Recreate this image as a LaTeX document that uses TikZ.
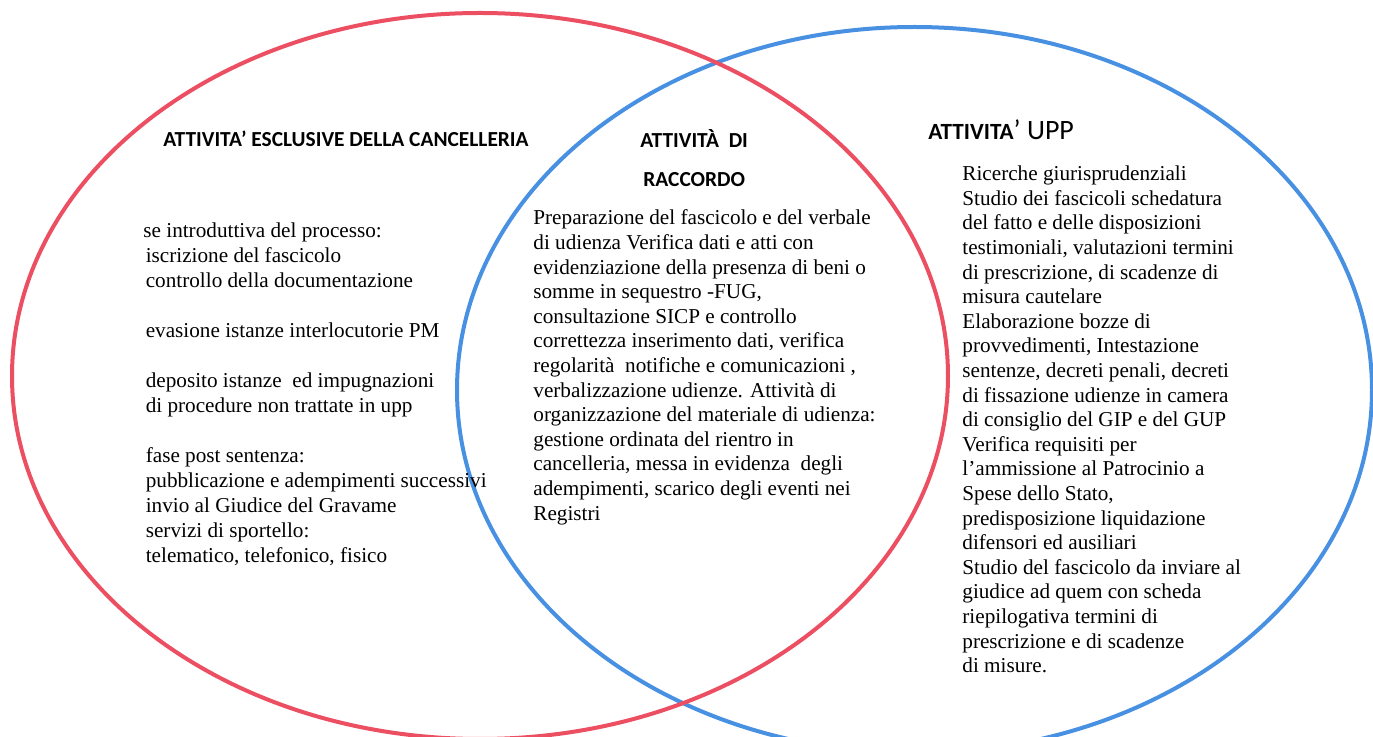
\documentclass[tikz,border=0pt]{standalone}
\usepackage{fontspec}
\setmainfont{Liberation Serif}
\newfontfamily\headfont{Carlito}
\definecolor{vennred}{RGB}{236,78,98}
\definecolor{vennblue}{RGB}{72,144,226}

\begin{document}
\begin{tikzpicture}[x=0.5pt,y=-0.5pt]
\useasboundingbox (0,0) rectangle (1373,737);

\tikzstyle{RingStyle}=[line width=2pt]
\tikzstyle{HeadStyle}=[inner sep=0pt,anchor=base west,font=\headfont\bfseries\fontsize{10.7}{12}\selectfont]
\tikzstyle{BodyStyle}=[inner sep=0pt,anchor=north west,align=left,font=\fontsize{10.6}{12.3}\selectfont]

% the two sets
\draw[RingStyle,vennblue] (914.5,390) ellipse [x radius=228.75pt,y radius=181.5pt];
\draw[RingStyle,vennred] (480,376) ellipse [x radius=234pt,y radius=181.5pt];

% headings
\node[HeadStyle] (headcanc) at (163,147) {ATTIVITA\textquoteright\ ESCLUSIVE DELLA CANCELLERIA};
\node[HeadStyle] (headracc) at (640,148) {ATTIVITÀ\ \ DI};
\node[HeadStyle] (headracc2) at (643,187) {RACCORDO};
\node[HeadStyle,font=\headfont\bfseries\fontsize{11.6}{12}\selectfont] (headupp) at (928,140) {ATTIVITA{\mdseries\fontsize{14}{14}\selectfont\textquoteright\ UPP}};

% left set only
\node[BodyStyle,font=\fontsize{10.6}{12.5}\selectfont] (canc) at (143,222.5) {se introduttiva del processo:\\
\hspace{1.2pt}iscrizione del fascicolo\\
\hspace{1.2pt}controllo della documentazione\\[12.5pt]
\hspace{1.2pt}evasione istanze interlocutorie PM\\[12.5pt]
\hspace{1.2pt}deposito istanze\ \ ed impugnazioni\\
\hspace{1.2pt}di procedure non trattate in upp\\[12.5pt]
\hspace{1.2pt}fase post sentenza:\\
\hspace{1.2pt}pubblicazione e adempimenti successivi\\
\hspace{1.2pt}invio al Giudice del Gravame\\
\hspace{1.2pt}servizi di sportello:\\
\hspace{1.2pt}telematico, telefonico, fisico};

% overlap
\node[BodyStyle] (racc) at (533,209.5) {Preparazione del fascicolo e del verbale\\
di udienza Verifica dati e atti con\\
evidenziazione della presenza di beni o\\
somme in sequestro -FUG,\\
consultazione SICP e controllo\\
correttezza inserimento dati, verifica\\
regolarità\ \ notifiche e comunicazioni ,\\
verbalizzazione udienze. Attività di\\
organizzazione del materiale di udienza:\\
gestione ordinata del rientro in\\
cancelleria, messa in evidenza\ \ degli\\
adempimenti, scarico degli eventi nei\\
Registri};

% right set only
\node[BodyStyle] (upp) at (962,165.5) {Ricerche giurisprudenziali\\
Studio dei fascicoli schedatura\\
del fatto e delle disposizioni\\
testimoniali, valutazioni termini\\
di prescrizione, di scadenze di\\
misura cautelare\\
Elaborazione bozze di\\
provvedimenti, Intestazione\\
sentenze, decreti penali, decreti\\
di fissazione udienze in camera\\
di consiglio del GIP e del GUP\\
Verifica requisiti per\\
l\textquoteright ammissione al Patrocinio a\\
Spese dello Stato,\\
predisposizione liquidazione\\
difensori ed ausiliari\\
Studio del fascicolo da inviare al\\
giudice ad quem con scheda\\
riepilogativa termini di\\
prescrizione e di scadenze\\
di misure.};
\end{tikzpicture}
\end{document}
